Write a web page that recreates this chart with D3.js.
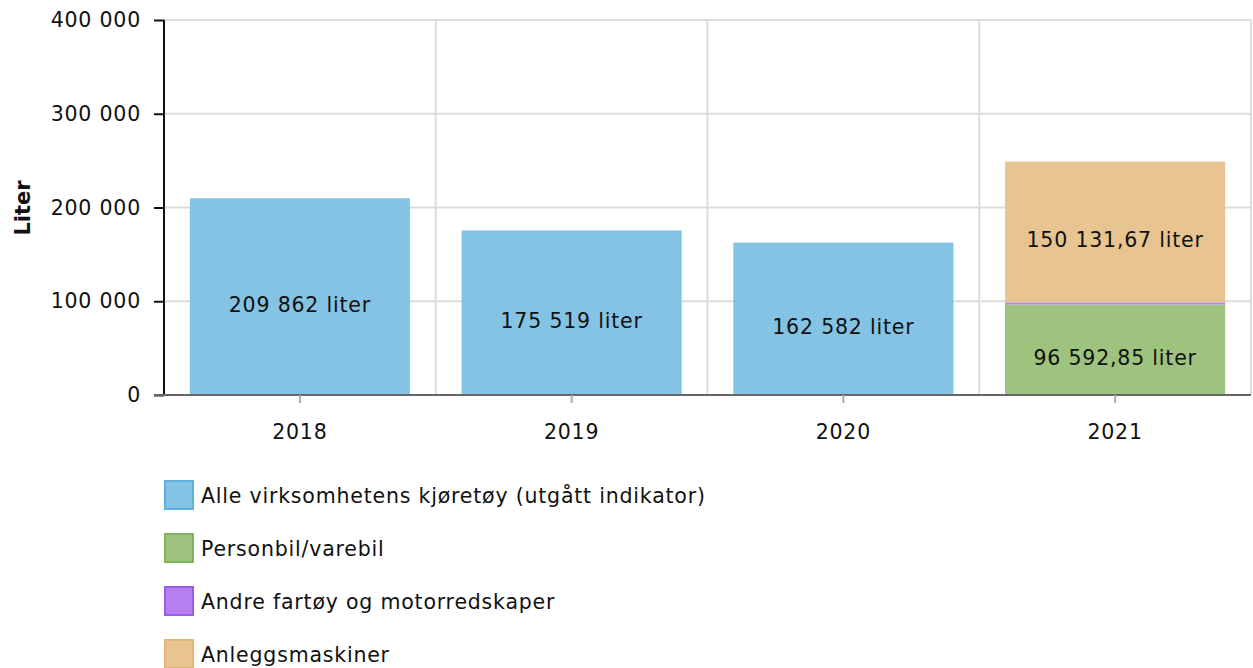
<!DOCTYPE html>
<html>
<head>
<meta charset="utf-8">
<script src="https://cdn.jsdelivr.net/npm/d3@7"></script>
<style>
  body { margin: 0; background: #fff; }
  svg { display: block; font-family: "DejaVu Sans", Verdana, sans-serif; }
</style>
</head>
<body>
<svg id="chart" width="1253" height="668"></svg>
<script>
// data
var years = ["2018", "2019", "2020", "2021"];
var seriesNames = ["Alle virksomhetens kjøretøy (utgått indikator)", "Personbil/varebil",
                   "Andre fartøy og motorredskaper", "Anleggsmaskiner"];
var alleKjoretoy = [209862, 175519, 162582, 0];
var personbil = [0, 0, 0, 96592.85];
var andreFartoy = [0, 0, 0, 2200];
var anleggsmaskiner = [0, 0, 0, 150131.67];
var yTicks = [0, 100000, 200000, 300000, 400000];

var fills = ["#77bde0", "#92bd70", "#ae71ee", "#e6be84"];
var strokes = ["#5fb0dc", "#7db55c", "#9d5ae9", "#e2b575"];

var nb = d3.formatLocale({decimal: ",", thousands: "\u00a0", grouping: [3]});
var fmtInt = nb.format(",d");
var fmtLabel = function (v) {
    var s = Number.isInteger(v) ? nb.format(",d")(v) : nb.format(",.2f")(v);
    return s + " liter";
};

var FS = 20.5, LS = "0.8px";
var svg = d3.select("#chart");
var mLeft = 164, mRight = 1251, mTop = 20, mBottom = 395;

var x = d3.scaleBand().domain(years).range([mLeft, mRight]).paddingInner(0.19).paddingOuter(0.095);
var y = d3.scaleLinear().domain([0, 400000]).range([mBottom, mTop]);

var series = [alleKjoretoy, personbil, andreFartoy, anleggsmaskiner];
var rows = years.map(function (yr, i) {
    var r = {year: yr};
    series.forEach(function (s, k) { r["s" + k] = s[i]; });
    return r;
});
var stack = d3.stack().keys(["s0", "s1", "s2", "s3"])(rows);

// grid
var step = x.step();
svg.append("g").selectAll("line")
    .data(yTicks).enter().append("line")
    .attr("x1", mLeft).attr("x2", mRight)
    .attr("y1", function (d) { return y(d); }).attr("y2", function (d) { return y(d); })
    .attr("stroke", "#dcdcdc").attr("stroke-width", 2);
svg.append("g").selectAll("line")
    .data(years).enter().append("line")
    .attr("x1", function (d) { return x(d) - step * 0.095 + step; })
    .attr("x2", function (d) { return x(d) - step * 0.095 + step; })
    .attr("y1", mTop).attr("y2", mBottom)
    .attr("stroke", "#dcdcdc").attr("stroke-width", 2);

// bars
var layers = svg.append("g").selectAll("g")
    .data(stack).enter().append("g")
    .attr("fill", function (d, i) { return fills[i]; });
layers.selectAll("rect")
    .data(function (d) { return d.filter(function (p) { return p[1] - p[0] > 0; }); })
    .enter().append("rect")
    .attr("x", function (d) { return x(d.data.year); })
    .attr("width", x.bandwidth())
    .attr("y", function (d) { return y(d[1]); })
    .attr("height", function (d) { return y(d[0]) - y(d[1]); })
    .attr("opacity", 0.9);

// bar labels (skip slivers)
stack.forEach(function (layer) {
    layer.forEach(function (p) {
        var v = p[1] - p[0];
        if (v < 20000) return;
        svg.append("text")
            .attr("x", x(p.data.year) + x.bandwidth() / 2)
            .attr("y", (y(p[0]) + y(p[1])) / 2 + 8)
            .attr("dy", "0.35em")
            .attr("text-anchor", "middle")
            .attr("font-size", FS).attr("letter-spacing", LS)
            .attr("fill", "#111")
            .text(fmtLabel(v));
    });
});

// y axis
var yAxis = svg.append("g").attr("transform", "translate(" + mLeft + ",0)")
    .call(d3.axisLeft(y).tickValues(yTicks).tickSize(10).tickPadding(13).tickFormat(fmtInt));
yAxis.select(".domain").attr("stroke", "#111").attr("stroke-width", 2).attr("d", "M0," + mTop + "V" + mBottom);
yAxis.selectAll(".tick line").attr("stroke", "#111").attr("stroke-width", 2);
yAxis.selectAll("text").attr("font-size", FS).attr("letter-spacing", LS).attr("fill", "#111").attr("font-family", "DejaVu Sans");

// x axis
var xAxis = svg.append("g").attr("transform", "translate(0," + mBottom + ")")
    .call(d3.axisBottom(x).tickSize(8).tickPadding(21));
xAxis.select(".domain").attr("stroke", "#666").attr("stroke-width", 2).attr("d", "M" + (mLeft - 10) + ",0H" + mRight);
xAxis.selectAll(".tick line").attr("stroke", "#aaa").attr("stroke-width", 2);
xAxis.selectAll("text").attr("font-size", FS).attr("letter-spacing", LS).attr("fill", "#111").attr("font-family", "DejaVu Sans");

// axis title
svg.append("text")
    .attr("transform", "translate(30,208) rotate(-90)")
    .attr("text-anchor", "middle")
    .attr("font-size", 21).attr("font-weight", "bold").attr("fill", "#111")
    .text("Liter");

// legend
var legend = svg.append("g").selectAll("g")
    .data(seriesNames).enter().append("g")
    .attr("transform", function (d, i) { return "translate(164," + (480 + i * 53) + ")"; });
legend.append("rect")
    .attr("x", 1).attr("y", 1).attr("width", 28).attr("height", 28)
    .attr("fill", function (d, i) { return fills[i]; })
    .attr("fill-opacity", 0.9)
    .attr("stroke", function (d, i) { return strokes[i]; })
    .attr("stroke-width", 2);
legend.append("text")
    .attr("x", 37).attr("y", 16).attr("dy", "0.35em")
    .attr("font-size", FS).attr("letter-spacing", LS).attr("fill", "#111")
    .text(function (d) { return d; });
</script>
</body>
</html>
